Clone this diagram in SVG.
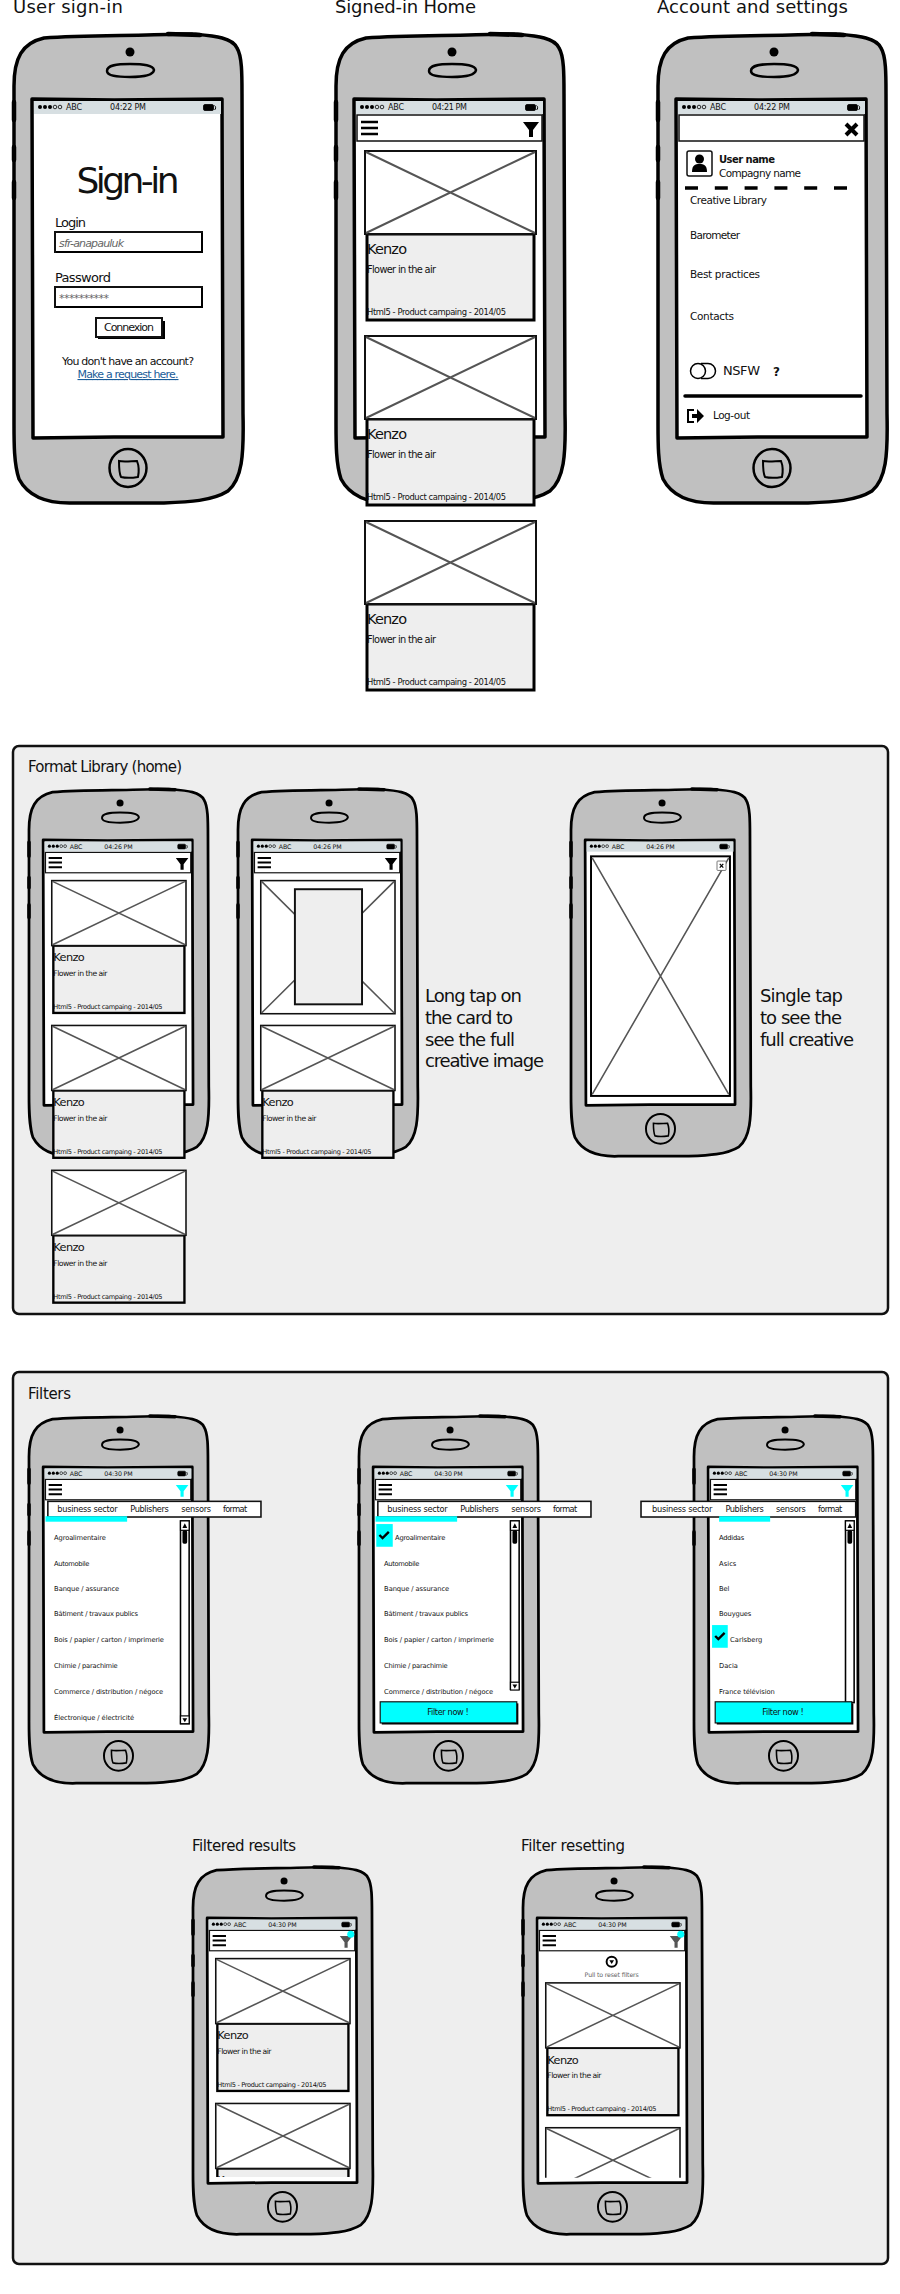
<svg xmlns="http://www.w3.org/2000/svg" xmlns:xlink="http://www.w3.org/1999/xlink" width="900" height="2294" viewBox="0 0 900 2294">
<style>
text{font-family:"DejaVu Sans","Liberation Sans",sans-serif;fill:#111}
.h{font-size:18px}
.p{font-size:15px}
.st{font-size:8px}
.kz{font-size:14.5px}
.fl{font-size:9.8px}
.ht{font-size:8.400px}
.li{font-size:8.600px}
.tab{font-size:10.500px}
.menu{font-size:10.500px}
.panel{fill:#eeeeee;stroke:#111;stroke-width:2.5}
.ink{fill:none;stroke:#000;stroke-width:3.5;stroke-linecap:round;stroke-linejoin:round}
.thin{fill:none;stroke:#000;stroke-width:2}
.box{fill:#fff;stroke:#111;stroke-width:2}
.x{fill:none;stroke:#555;stroke-width:2}
.cy{fill:#00ffff}
</style>
<defs>
<g id="phone">
<path d="M0,52 C0,24 8,9 30,4 C70,1 120,2 164,0 L178,0 C200,2 218,3 223,14 C228,22 228,40 228,60 L229,380 C230,422 228,445 214,457 C198,467 175,468 150,469 L60,469 C32,470 14,462 5,445 C0,430 0,410 0,390 L0,200 Z" fill="#c0c0c0" stroke="#000" stroke-width="3.5" stroke-linejoin="round"/>
<path d="M154,0 L186,1" class="ink" style="stroke-width:4.500"/>
<path d="M0,68 V86 M0,113 V126 M0,148 V164" class="ink" style="stroke-width:4.500"/>
<circle cx="116" cy="18" r="4.500" fill="#000"/>
<path d="M93,37 C93,31 103,30 116,30 C130,30 139,31 140,36 C139,42 128,43 116,43 C103,43 93,42 93,37 Z" fill="#c0c0c0" stroke="#000" stroke-width="2.500"/>
<path d="M18,65 L100,66 L208,65 L209,403 L100,403 L19,404 Z" fill="#fff" stroke="#000" stroke-width="3.500" stroke-linejoin="round"/>
<ellipse cx="114" cy="434" rx="18.500" ry="19" fill="#c0c0c0" stroke="#000" stroke-width="2.500"/>
<path d="M105,427 C110,428 118,427 123,427 C125,432 125,438 124,443 C118,444 111,444 107,443 C105,439 105,433 105,427 Z" fill="#c0c0c0" stroke="#000" stroke-width="2"/>
</g>
<g id="status">
<rect x="20" y="67" width="187" height="13" fill="#d7dfe2"/>
<circle cx="26" cy="73" r="2" fill="#000"/><circle cx="31" cy="73" r="2" fill="#000"/><circle cx="36" cy="73" r="2" fill="#000"/>
<circle cx="41" cy="73" r="1.800" fill="none" stroke="#000" stroke-width=".8"/><circle cx="46" cy="73" r="1.800" fill="none" stroke="#000" stroke-width=".8"/>
<rect x="189.500" y="70.500" width="10" height="6" rx="1.500" fill="#000" stroke="#000" stroke-width=".8"/>
<path d="M200.500,71.500 C202,72.500 202,75 200.500,76" fill="none" stroke="#000"/>
</g>
<g id="nav">
<rect x="21" y="81" width="185" height="26" fill="#fff" stroke="#111" stroke-width="1.500"/>
<path d="M25,88 H42 M25,94 H42 M25,100 H42" fill="none" stroke="#000" stroke-width="2.500"/>
</g>
<polygon id="funnel" points="187,88 203,88 197,96 197,103 193,103 193,96"/>
<g id="ph">
<rect x="29" y="0" width="171" height="83" class="box"/>
<path d="M30,1 L199,82 M199,1 L30,82" class="x"/>
</g>
<g id="card">
<rect x="31" y="83" width="167" height="86" fill="#eeeeee" stroke="#000" stroke-width="3"/>
<use href="#ph"/>
</g>
<g id="bar-top">
<rect x="193" y="134" width="11" height="12" fill="#fff" stroke="#000" stroke-width="1.500"/>
<path d="M195.500,143 L198.500,137 L201.500,143 Z" fill="#000"/>
<rect x="195.500" y="146" width="6" height="17" rx="2" fill="#000"/>
</g>
<g id="bar-end">
<rect x="193" y="0" width="11" height="10" fill="#fff" stroke="#000" stroke-width="1.500"/>
<path d="M195.500,3 L198.500,8 L201.500,3 Z" fill="#000"/>
</g>
<g id="tick"><path d="M0,4 L4,8 L12,0" fill="none" stroke="#000" stroke-width="3"/></g>
<clipPath id="clip396"><rect x="-5" y="0" width="240" height="396"/></clipPath>
<clipPath id="clip397"><rect x="-5" y="0" width="240" height="397"/></clipPath>
</defs>

<text class="h" x="13" y="13" textLength="110">User sign-in</text>
<text class="h" x="335" y="13" textLength="141">Signed-in Home</text>
<text class="h" x="657" y="13" textLength="191">Account and settings</text>

<g id="signin" transform="translate(14,34)">
<use href="#phone"/><use href="#status"/>
<text class="st" x="52" y="76" textLength="16">ABC</text>
<text class="st" x="96" y="76" textLength="36">04:22 PM</text>
<text x="114" y="159" text-anchor="middle" style="font-size:36px" textLength="103">Sign-in</text>
<text x="41" y="193" style="font-size:13px" textLength="31">Login</text>
<rect x="41" y="198" width="147" height="20" class="box"/><path d="M188,199 V218 H42" class="thin"/>
<text x="45" y="213" style="font-size:11px;font-style:italic;fill:#666" textLength="65">sfr-anapauluk</text>
<text x="41" y="248" style="font-size:13px" textLength="56">Password</text>
<rect x="41" y="253" width="147" height="20" class="box"/><path d="M188,254 V273 H42" class="thin"/>
<text x="45" y="268" style="font-size:11px;fill:#666" textLength="50">**********</text>
<rect x="84" y="287" width="67" height="18" fill="#000"/>
<rect x="82" y="284" width="66" height="19" class="box"/>
<text x="115" y="297" text-anchor="middle" style="font-size:11px" textLength="50">Connexion</text>
<text x="114" y="331" text-anchor="middle" style="font-size:11px" textLength="132">You don't have an account?</text>
<text x="114" y="344" text-anchor="middle" style="font-size:11px;fill:#1b5c98;text-decoration:underline" textLength="101">Make a request here.</text>
</g>

<g id="home" transform="translate(336,34)">
<use href="#phone"/><use href="#status"/><use href="#nav"/><use href="#funnel"/>
<text class="st" x="52" y="76" textLength="16">ABC</text>
<text class="st" x="96" y="76" textLength="35">04:21 PM</text>
<g transform="translate(0,117)"><use href="#card"/><text class="kz" x="31" y="103" textLength="40">Kenzo</text><text class="fl" x="31" y="122" textLength="69">Flower in the air</text><text class="ht" x="31" y="164" textLength="139">Html5 - Product campaing - 2014/05</text></g>
<g transform="translate(0,302)"><use href="#card"/><text class="kz" x="31" y="103" textLength="40">Kenzo</text><text class="fl" x="31" y="122" textLength="69">Flower in the air</text><text class="ht" x="31" y="164" textLength="139">Html5 - Product campaing - 2014/05</text></g>
<g transform="translate(0,487)"><use href="#card"/><text class="kz" x="31" y="103" textLength="40">Kenzo</text><text class="fl" x="31" y="122" textLength="69">Flower in the air</text><text class="ht" x="31" y="164" textLength="139">Html5 - Product campaing - 2014/05</text></g>
</g>

<g id="account" transform="translate(658,34)">
<use href="#phone"/><use href="#status"/><use href="#nav"/>
<rect x="22" y="84" width="24" height="21" fill="#fff"/>
<path d="M188,90 L199,101 M199,90 L188,101" stroke="#000" stroke-width="4" fill="none"/>
<text class="st" x="52" y="76" textLength="16">ABC</text>
<text class="st" x="96" y="76" textLength="36">04:22 PM</text>
<rect x="29" y="117" width="25" height="25" rx="2" fill="#fff" stroke="#111" stroke-width="1.500"/>
<circle cx="41.500" cy="125" r="4.500" fill="#000"/><path d="M34,138 C34,131 37,130 41.500,130 C46,130 49,131 49,138 Z" fill="#000"/>
<text x="61" y="129" style="font-size:10px;font-weight:bold" textLength="56">User name</text>
<text x="61" y="143" class="menu" textLength="82">Compagny name</text>
<path d="M27,154 H190" stroke="#000" stroke-width="3.500" stroke-dasharray="13 16.800" fill="none"/>
<text class="menu" x="32" y="170" textLength="77">Creative Library</text>
<text class="menu" x="32" y="205" textLength="50">Barometer</text>
<text class="menu" x="32" y="244" textLength="70">Best practices</text>
<text class="menu" x="32" y="286" textLength="44">Contacts</text>
<circle cx="40" cy="337" r="7.500" fill="#fff" stroke="#000" stroke-width="1.500"/>
<path d="M43,329.500 H50 A7.500,7.500 0 0 1 50,344.500 H43" fill="none" stroke="#000" stroke-width="1.500"/>
<text x="65" y="341" style="font-size:13px" textLength="37">NSFW</text>
<text x="115" y="342" style="font-size:12px;font-weight:bold">?</text>
<path d="M27,362 H203" stroke="#000" stroke-width="3.500" stroke-linecap="round"/>
<path d="M36,376 H30 V388 H36" fill="none" stroke="#000" stroke-width="2"/>
<path d="M34,380 H39 V375 L46,382 L39,389 V384 H34 Z" fill="#000"/>
<text class="menu" x="55" y="385" textLength="37">Log-out</text>
</g>

<rect id="panel-format" x="13" y="746" width="875" height="568" rx="6" class="panel"/>
<text class="p" x="28" y="772" textLength="154">Format Library (home)</text>

<g id="lib-home" transform="translate(29,789) scale(.785,.783)">
<use href="#phone"/><use href="#status"/><use href="#nav"/><use href="#funnel"/>
<text class="st" x="52" y="76" textLength="16">ABC</text>
<text class="st" x="96" y="76" textLength="36">04:26 PM</text>
<g transform="translate(0,117)"><use href="#card"/><text class="kz" x="31" y="103" textLength="40">Kenzo</text><text class="fl" x="31" y="122" textLength="69">Flower in the air</text><text class="ht" x="31" y="164" textLength="139">Html5 - Product campaing - 2014/05</text></g>
<g transform="translate(0,302)"><use href="#card"/><text class="kz" x="31" y="103" textLength="40">Kenzo</text><text class="fl" x="31" y="122" textLength="69">Flower in the air</text><text class="ht" x="31" y="164" textLength="139">Html5 - Product campaing - 2014/05</text></g>
<g transform="translate(0,487)"><use href="#card"/><text class="kz" x="31" y="103" textLength="40">Kenzo</text><text class="fl" x="31" y="122" textLength="69">Flower in the air</text><text class="ht" x="31" y="164" textLength="139">Html5 - Product campaing - 2014/05</text></g>
</g>

<g id="lib-long" transform="translate(238,789) scale(.785,.783)">
<use href="#phone"/><use href="#status"/><use href="#nav"/><use href="#funnel"/>
<text class="st" x="52" y="76" textLength="16">ABC</text>
<text class="st" x="96" y="76" textLength="36">04:26 PM</text>
<rect x="29" y="117" width="171" height="170" class="box"/>
<path d="M30,118 L199,286 M199,118 L30,286" class="x"/>
<rect x="72.500" y="128" width="85.500" height="147" fill="#eeeeee" stroke="#111" stroke-width="2.500"/>
<g transform="translate(0,302)"><use href="#card"/><text class="kz" x="31" y="103" textLength="40">Kenzo</text><text class="fl" x="31" y="122" textLength="69">Flower in the air</text><text class="ht" x="31" y="164" textLength="139">Html5 - Product campaing - 2014/05</text></g>
</g>

<g id="note-long">
<text class="h" x="425" y="1002" textLength="97">Long tap on</text>
<text class="h" x="425" y="1024" textLength="88">the card to</text>
<text class="h" x="425" y="1046" textLength="90">see the full</text>
<text class="h" x="425" y="1067" textLength="119">creative image</text>
</g>

<g id="lib-single" transform="translate(571,789) scale(.785,.783)">
<use href="#phone"/><use href="#status"/>
<text class="st" x="52" y="76" textLength="16">ABC</text>
<text class="st" x="96" y="76" textLength="36">04:26 PM</text>
<rect x="25.500" y="86" width="177" height="306" class="box" style="stroke:#000;stroke-width:2.500"/>
<path d="M27,88 L201,390 M201,88 L27,390" class="x"/>
<rect x="186" y="92" width="11.500" height="12" rx="1" fill="#fff" stroke="#555" stroke-width="1"/>
<path d="M189.500,95.500 L194,100.500 M194,95.500 L189.500,100.500" stroke="#000" stroke-width="1.500"/>
</g>

<g id="note-single">
<text class="h" x="760" y="1002" textLength="83">Single tap</text>
<text class="h" x="760" y="1024" textLength="82">to see the</text>
<text class="h" x="760" y="1046" textLength="94">full creative</text>
</g>

<rect id="panel-filters" x="13" y="1372" width="875" height="892" rx="6" class="panel"/>
<text class="p" x="28" y="1399" textLength="43">Filters</text>

<g id="filter-sector" transform="translate(29,1416) scale(.785,.783)">
<use href="#phone"/><use href="#status"/><use href="#nav"/><use href="#funnel" class="cy"/>
<text class="st" x="52" y="76" textLength="16">ABC</text>
<text class="st" x="96" y="76" textLength="36">04:30 PM</text>
<rect x="24" y="109" width="271.500" height="20" fill="#fff" stroke="#111" stroke-width="2"/>
<rect x="21" y="128" width="104" height="7" class="cy"/>
<text class="tab" x="36" y="122" textLength="77">business sector</text>
<text class="tab" x="129" y="122" textLength="49">Publishers</text>
<text class="tab" x="194" y="122" textLength="38">sensors</text>
<text class="tab" x="247" y="122" textLength="31">format</text>
<rect x="193" y="134" width="11" height="259" fill="#fff" stroke="#000" stroke-width="2"/><use href="#bar-top"/><use href="#bar-end" y="383"/>
<text class="li" x="32" y="158" textLength="66">Agroalimentaire</text>
<text class="li" x="32" y="191" textLength="45">Automobile</text>
<text class="li" x="32" y="224" textLength="83">Banque / assurance</text>
<text class="li" x="32" y="256" textLength="107">Bâtiment / travaux publics</text>
<text class="li" x="32" y="289" textLength="140">Bois / papier / carton / imprimerie</text>
<text class="li" x="32" y="322" textLength="81">Chimie / parachimie</text>
<text class="li" x="32" y="355" textLength="139">Commerce / distribution / négoce</text>
<text class="li" x="32" y="388" textLength="102">Électronique / électricité</text>
</g>

<g id="filter-checked" transform="translate(359,1416) scale(.785,.783)">
<use href="#phone"/><use href="#status"/><use href="#nav"/><use href="#funnel" class="cy"/>
<text class="st" x="52" y="76" textLength="16">ABC</text>
<text class="st" x="96" y="76" textLength="36">04:30 PM</text>
<rect x="24" y="109" width="271.500" height="20" fill="#fff" stroke="#111" stroke-width="2"/>
<rect x="21" y="128" width="104" height="7" class="cy"/>
<text class="tab" x="36" y="122" textLength="77">business sector</text>
<text class="tab" x="129" y="122" textLength="49">Publishers</text>
<text class="tab" x="194" y="122" textLength="38">sensors</text>
<text class="tab" x="247" y="122" textLength="31">format</text>
<rect x="193" y="134" width="11" height="215" fill="#fff" stroke="#000" stroke-width="2"/><use href="#bar-top"/><use href="#bar-end" y="340"/>
<rect x="22" y="138" width="21" height="29" class="cy"/><use href="#tick" x="26" y="148"/>
<text class="li" x="46" y="158" textLength="64">Agroalimentaire</text>
<text class="li" x="32" y="191" textLength="45">Automobile</text>
<text class="li" x="32" y="224" textLength="83">Banque / assurance</text>
<text class="li" x="32" y="256" textLength="107">Bâtiment / travaux publics</text>
<text class="li" x="32" y="289" textLength="140">Bois / papier / carton / imprimerie</text>
<text class="li" x="32" y="322" textLength="81">Chimie / parachimie</text>
<text class="li" x="32" y="355" textLength="139">Commerce / distribution / négoce</text>
<rect x="29" y="367" width="174" height="27" fill="#000"/>
<rect x="27" y="365" width="174" height="27" fill="#00ffff" stroke="#111" stroke-width="1.500"/>
<text x="113.500" y="382" text-anchor="middle" style="font-size:10.500px" textLength="53">Filter now !</text>
</g>

<g id="filter-publishers" transform="translate(694,1416) scale(.785,.783)">
<use href="#phone"/><use href="#status"/><use href="#nav"/><use href="#funnel" class="cy"/>
<text class="st" x="52" y="76" textLength="16">ABC</text>
<text class="st" x="96" y="76" textLength="36">04:30 PM</text>
<rect x="-67.500" y="109" width="273.500" height="20" fill="#fff" stroke="#111" stroke-width="2"/>
<rect x="32" y="128" width="65" height="7" class="cy"/>
<text class="tab" x="-53.500" y="122" textLength="77">business sector</text>
<text class="tab" x="40" y="122" textLength="49">Publishers</text>
<text class="tab" x="104.500" y="122" textLength="38">sensors</text>
<text class="tab" x="158" y="122" textLength="31">format</text>
<rect x="193" y="134" width="11" height="232" fill="#fff" stroke="#000" stroke-width="2"/><use href="#bar-top"/>
<rect x="23" y="267" width="20" height="29" class="cy"/><use href="#tick" x="27" y="277"/>
<text class="li" x="32" y="158" textLength="32">Addidas</text>
<text class="li" x="32" y="191" textLength="22">Asics</text>
<text class="li" x="32" y="224" textLength="13">Bel</text>
<text class="li" x="32" y="256" textLength="41">Bouygues</text>
<text class="li" x="46" y="289" textLength="41">Carlsberg</text>
<text class="li" x="32" y="322" textLength="24">Dacia</text>
<text class="li" x="32" y="355" textLength="71">France télévision</text>
<rect x="29" y="367" width="174" height="27" fill="#000"/>
<rect x="27" y="365" width="174" height="27" fill="#00ffff" stroke="#111" stroke-width="1.500"/>
<text x="113.500" y="382" text-anchor="middle" style="font-size:10.500px" textLength="53">Filter now !</text>
</g>

<text class="p" x="192" y="1851" textLength="104">Filtered results</text>
<text class="p" x="521" y="1851" textLength="104">Filter resetting</text>

<g id="filtered-results" transform="translate(193,1867) scale(.785,.783)">
<use href="#phone"/><use href="#status"/><use href="#nav"/><use href="#funnel" fill="#555"/>
<circle cx="201" cy="86" r="4.500" class="cy"/>
<text class="st" x="52" y="76" textLength="16">ABC</text>
<text class="st" x="96" y="76" textLength="36">04:30 PM</text>
<g transform="translate(0,117)"><use href="#card"/><text class="kz" x="31" y="103" textLength="40">Kenzo</text><text class="fl" x="31" y="122" textLength="69">Flower in the air</text><text class="ht" x="31" y="164" textLength="139">Html5 - Product campaing - 2014/05</text></g>
<g clip-path="url(#clip396)"><g transform="translate(0,302)"><use href="#card"/><text class="kz" x="31" y="103" textLength="40">Kenzo</text></g></g>
</g>

<g id="filter-resetting" transform="translate(523,1867) scale(.785,.783)">
<use href="#phone"/><use href="#status"/><use href="#nav"/><use href="#funnel" fill="#555"/>
<circle cx="201" cy="86" r="4.500" class="cy"/>
<text class="st" x="52" y="76" textLength="16">ABC</text>
<text class="st" x="96" y="76" textLength="36">04:30 PM</text>
<circle cx="113" cy="121" r="6.500" fill="#fff" stroke="#000" stroke-width="2.500"/>
<path d="M110,119 H116 L113,124 Z" fill="#000"/>
<text x="113" y="141" text-anchor="middle" style="font-size:8px;fill:#666" textLength="69">Pull to reset filters</text>
<g transform="translate(0,148)"><use href="#card"/><text class="kz" x="31" y="103" textLength="40">Kenzo</text><text class="fl" x="31" y="122" textLength="69">Flower in the air</text><text class="ht" x="31" y="164" textLength="139">Html5 - Product campaing - 2014/05</text></g>
<g clip-path="url(#clip397)"><g transform="translate(0,333)"><use href="#card"/></g></g>
</g>
</svg>
